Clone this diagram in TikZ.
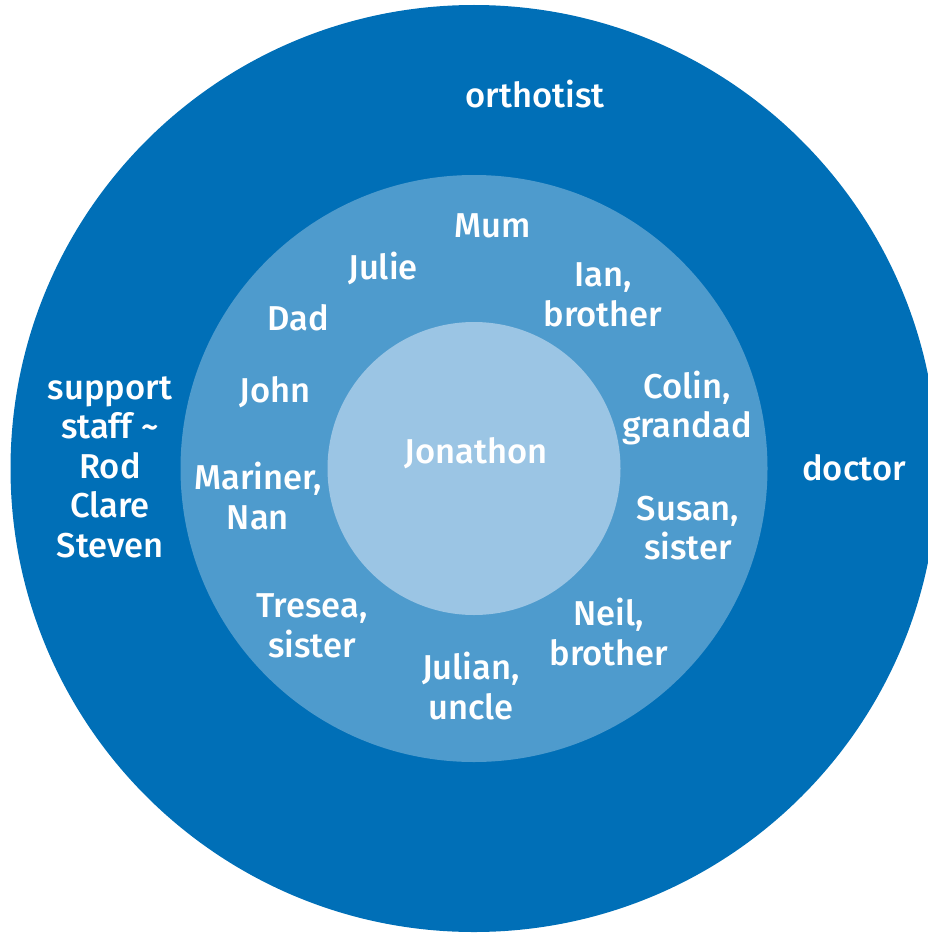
\documentclass[tikz,border=0pt]{standalone}
\usepackage{fontspec}
\setmainfont{Fira Sans}[UprightFont={* Medium}]
\usepackage{tikz}
\definecolor{ringouter}{RGB}{0,111,183}
\definecolor{ringmiddle}{RGB}{78,155,205}
\definecolor{ringinner}{RGB}{155,197,228}

\begin{document}
\begin{tikzpicture}[
    x=1pt, y=-1pt,
    person/.style={text=white, align=center, inner sep=0pt, font=\fontsize{34.5}{39.5}\selectfont},
]
\useasboundingbox (0,0) rectangle (928,934);
\begin{scope}
\clip (0,0) rectangle (928,934);
\fill[ringouter] (474,468.5) circle[radius=463.5];
\end{scope}
\fill[ringmiddle] (474,468.5) circle[radius=293.5];
\fill[ringinner] (474,468.5) circle[radius=146.5];
% outer ring
\node[person] (orthotist) at (535,94) {orthotist};
\node[person] (doctor) at (854,468) {doctor};
\node[person] (support) at (110,467) {support\\staff \textasciitilde\\Rod\\Clare\\Steven};
% middle ring
\node[person] (mum) at (493,226) {Mum};
\node[person] (julie) at (383,268) {Julie};
\node[person] (ian) at (603,295) {Ian,\\brother};
\node[person] (dad) at (298,318) {Dad};
\node[person] (john) at (275,392) {John};
\node[person] (colin) at (687,408) {Colin,\\grandad};
\node[person] (mariner) at (258,496) {Mariner,\\Nan};
\node[person] (susan) at (688,528) {Susan,\\sister};
\node[person] (tresea) at (312,626) {Tresea,\\sister};
\node[person] (neil) at (609,632) {Neil,\\brother};
\node[person] (julian) at (471,686) {Julian,\\uncle};
% centre
\node[person] (jonathon) at (476,453) {Jonathon};
\end{tikzpicture}
\end{document}
